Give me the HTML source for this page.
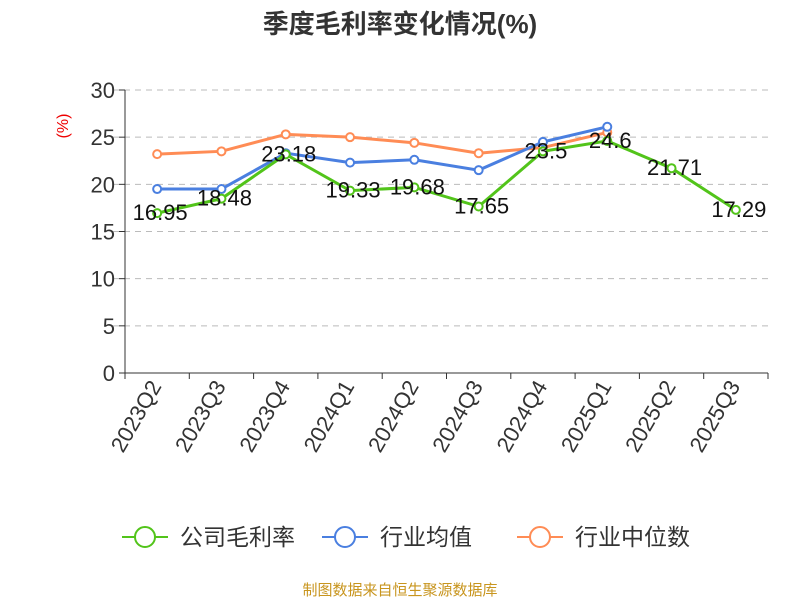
<!DOCTYPE html>
<html><head><meta charset="utf-8"><style>
body{margin:0;background:#fff}
svg{font-family:"Liberation Sans","Noto Sans CJK SC",sans-serif}
</style></head><body>
<svg id="c" width="800" height="600">
<text x="400" y="33" text-anchor="middle" font-size="26" font-weight="bold" fill="#333">季度毛利率变化情况(%)</text>
<text transform="translate(68,126) rotate(-90)" text-anchor="middle" font-size="16" fill="#e00">(%)</text>
<g id="grid"></g><g id="axes"></g><g id="series"></g>
<g>
<g><line x1="122" y1="537" x2="168" y2="537" stroke="#52c41a" stroke-width="2"/><circle cx="145" cy="537" r="10" fill="#fff" stroke="#52c41a" stroke-width="2"/><text x="180" y="545" font-size="23" fill="#333">公司毛利率</text></g>
<g><line x1="322" y1="537" x2="368" y2="537" stroke="#4a7fe0" stroke-width="2"/><circle cx="345" cy="537" r="10" fill="#fff" stroke="#4a7fe0" stroke-width="2"/><text x="380" y="545" font-size="23" fill="#333">行业均值</text></g>
<g><line x1="517" y1="537" x2="563" y2="537" stroke="#ff8c55" stroke-width="2"/><circle cx="540" cy="537" r="10" fill="#fff" stroke="#ff8c55" stroke-width="2"/><text x="575" y="545" font-size="23" fill="#333">行业中位数</text></g>
</g>
<text x="400" y="595" text-anchor="middle" font-size="15" fill="#c8951e">制图数据来自恒生聚源数据库</text>
</svg>
<script>
const categories=["2023Q2","2023Q3","2023Q4","2024Q1","2024Q2","2024Q3","2024Q4","2025Q1","2025Q2","2025Q3"];
const companyValues=[16.95,18.48,23.18,19.33,19.68,17.65,23.5,24.6,21.71,17.29];
const industryAvgValues=[19.5,19.5,23.3,22.3,22.6,21.5,24.5,26.1];
const industryMedianValues=[23.2,23.5,25.3,25.0,24.4,23.3,23.9,25.5];
const yTicks=[0,5,10,15,20,25,30];
const NS="http://www.w3.org/2000/svg";
const L=125,R=768,T=90,B=373,yMax=30;
const bw=(R-L)/categories.length;
const xs=i=>L+bw*(i+0.5);
const ys=v=>B-(v/yMax)*(B-T);
function mk(tag,attrs,parent){const e=document.createElementNS(NS,tag);for(const k in attrs)e.setAttribute(k,attrs[k]);parent.appendChild(e);return e;}
const grid=document.getElementById('grid'),axes=document.getElementById('axes'),ser=document.getElementById('series');
yTicks.forEach(t=>{
 if(t>0){const g=mk('line',{x1:L-12,x2:R,y1:ys(t),y2:ys(t),stroke:'#bbb','stroke-dasharray':'6,5'},grid);
 
 }
 const tk=mk('line',{x1:L-6,x2:L,y1:ys(t),y2:ys(t),stroke:'#333'},axes);
 
 
 const tx=mk('text',{x:L-10,y:ys(t)+8,'text-anchor':'end','font-size':22,fill:'#333'},axes);tx.textContent=t;
 
 
});
const ya=mk('line',{x1:L,x2:L,y1:T,y2:B,stroke:'#333'},axes);


const xa=mk('line',{x1:L,x2:R,y1:B,y2:B,stroke:'#333'},axes);


for(let i=0;i<=categories.length;i++){const tk=mk('line',{x1:L+bw*i,x2:L+bw*i,y1:B,y2:B+6,stroke:'#333'},axes);
 
 }
categories.forEach((c,i)=>{const x=xs(i)+5,y=B+13;
 const t=mk('text',{x:x,y:y,'text-anchor':'end','font-size':22,fill:'#333',transform:`rotate(-60 ${x} ${y})`},axes);t.textContent=c;
 
 });
function series(vals,color,name){
 const g=mk('g',{},ser);
 
 
 mk('polyline',{points:vals.map((v,i)=>xs(i)+','+ys(v)).join(' '),fill:'none',stroke:color,'stroke-width':3},g);
 vals.forEach((v,i)=>{const p=mk('circle',{cx:xs(i),cy:ys(v),r:4,fill:'#fff',stroke:color,'stroke-width':2},g);
  
  });
 return g;
}
series(industryMedianValues,'#ff8c55','industry-median-line');
series(industryAvgValues,'#4a7fe0','industry-avg-line');
const cg=series(companyValues,'#52c41a','company-line');
companyValues.forEach((v,i)=>{const t=mk('text',{x:xs(i)+3,y:ys(v)+7,'text-anchor':'middle','font-size':22,fill:'#111'},cg);t.textContent=v;
 
 });
</script>
</body></html>
